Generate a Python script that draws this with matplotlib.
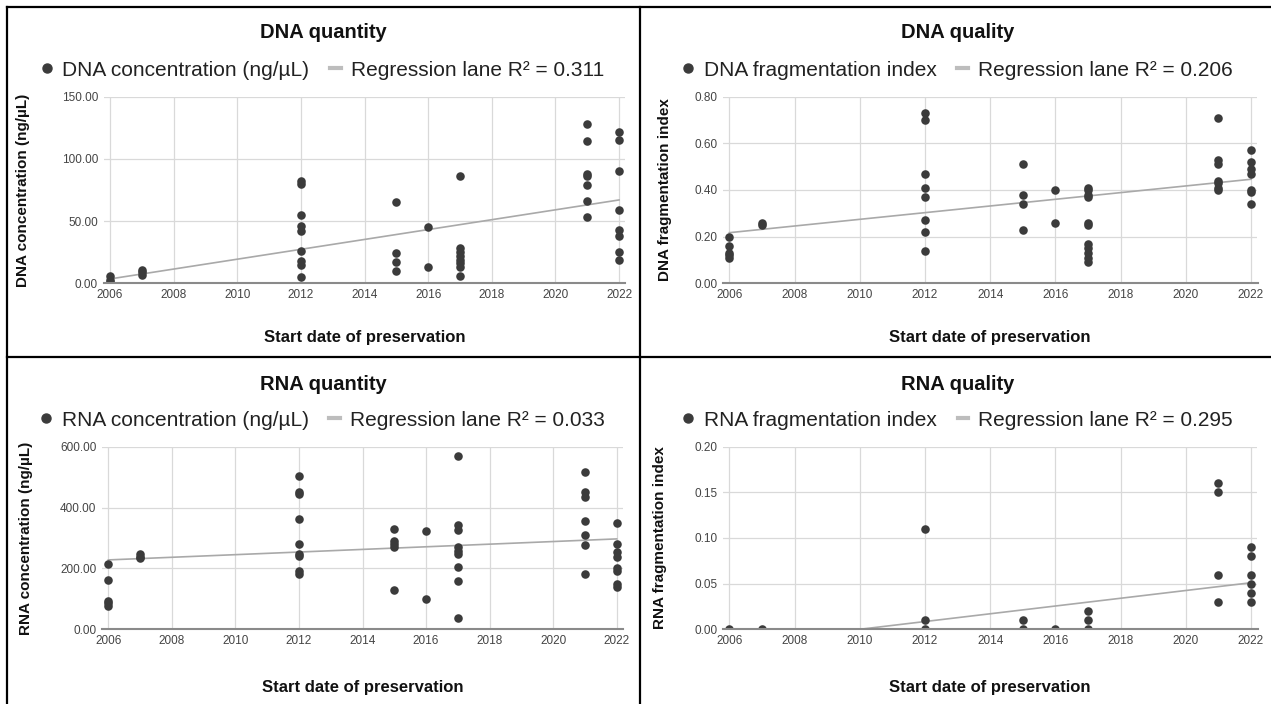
import numpy as np
import matplotlib
matplotlib.use("Agg")
import matplotlib.pyplot as plt
from matplotlib.lines import Line2D

plt.rcParams['font.family'] = ['Liberation Sans', 'DejaVu Sans']

years = [2006, 2007, 2012, 2015, 2016, 2017, 2021, 2022]

dna_conc = [[1, 3, 6], [7, 9, 11], [82, 80, 55, 46, 42, 26, 18, 15, 5],
            [65, 24, 17, 10], [45, 13], [86, 28, 25, 22, 19, 16, 13, 6],
            [128, 114, 88, 86, 79, 66, 53], [122, 115, 90, 59, 43, 38, 25, 19]]
dna_frag = [[0.20, 0.16, 0.13, 0.12, 0.11], [0.26, 0.25],
            [0.73, 0.70, 0.47, 0.41, 0.37, 0.27, 0.22, 0.14],
            [0.51, 0.38, 0.34, 0.23], [0.40, 0.26],
            [0.41, 0.40, 0.38, 0.37, 0.26, 0.25, 0.17, 0.15, 0.13, 0.11, 0.09],
            [0.71, 0.53, 0.51, 0.44, 0.43, 0.41, 0.40],
            [0.57, 0.52, 0.49, 0.47, 0.40, 0.39, 0.34]]
rna_conc = [[216, 162, 94, 86, 78], [246, 239, 233],
            [504, 452, 444, 361, 279, 247, 241, 193, 182],
            [330, 291, 279, 269, 128], [323, 99],
            [569, 344, 326, 272, 258, 247, 206, 160, 38],
            [517, 452, 434, 357, 310, 277, 181],
            [350, 281, 255, 237, 200, 192, 148, 138]]
rna_frag = [[0.0], [0.0], [0.11, 0.01, 0.0], [0.01, 0.0], [0.0],
            [0.02, 0.01, 0.0], [0.16, 0.15, 0.06, 0.03],
            [0.09, 0.08, 0.06, 0.05, 0.04, 0.03]]

# regression lines (value at 2006 and 2022)
trend_x = [2006, 2022]
dna_conc_trend = [3.5, 67]
dna_frag_trend = [0.217, 0.446]
rna_conc_trend = [228, 297]
rna_frag_trend = [-0.017, 0.051]

titles = ["DNA quantity", "DNA quality", "RNA quantity", "RNA quality"]
series_names = ["DNA concentration (ng/\u00b5L)", "DNA fragmentation index",
                "RNA concentration (ng/\u00b5L)", "RNA fragmentation index"]
r2_labels = ["Regression lane R\u00b2 = 0.311", "Regression lane R\u00b2 = 0.206",
             "Regression lane R\u00b2 = 0.033", "Regression lane R\u00b2 = 0.295"]
ylabels = ["DNA concentration (ng/\u00b5L)", "DNA fragmentation index",
           "RNA concentration (ng/\u00b5L)", "RNA fragmentation index"]
y_ticks = [[0, 50, 100, 150], [0, 0.2, 0.4, 0.6, 0.8],
           [0, 200, 400, 600], [0, 0.05, 0.1, 0.15, 0.2]]

data = [dna_conc, dna_frag, rna_conc, rna_frag]
trends = [dna_conc_trend, dna_frag_trend, rna_conc_trend, rna_frag_trend]

W, H = 1271, 704
fig = plt.figure(figsize=(W / 100, H / 100), dpi=100)

# axes boxes in pixels: left, right, top, bottom
boxes = [(103.6, 625.4, 96.7, 283.3), (722.8, 1257.5, 96.7, 283.3),
         (102.0, 623.0, 446.7, 629.3), (722.8, 1257.5, 446.7, 629.3)]
panel_cx = [323, 958, 323, 958]
title_y = [33, 33, 384, 384]
legend_y = [70, 70, 420, 420]
ylabel_x = [30, 672, 33, 667]
xlabel_y = [330, 330, 680, 680]

dot_col = "#3b3b3b"
trend_col = "#a9a9a9"

for i in range(4):
    l, r, t, b = boxes[i]
    ax = fig.add_axes([l / W, 1 - b / H, (r - l) / W, (b - t) / H])
    xs = np.concatenate([[y] * len(v) for y, v in zip(years, data[i])])
    ys = np.concatenate(data[i])
    ax.scatter(xs, ys, s=38, color=dot_col, zorder=3, linewidths=0)
    ax.plot(trend_x, trends[i], color=trend_col, lw=1.2, zorder=2)

    ax.set_xlim(2005.8, 2022.2)
    ax.set_ylim(y_ticks[i][0], y_ticks[i][-1])
    ax.set_xticks(range(2006, 2023, 2))
    ax.set_yticks(y_ticks[i])
    ax.set_yticklabels(["%.2f" % v for v in y_ticks[i]])
    ax.tick_params(length=0, labelsize=8.5, labelcolor="#444444", pad=4)
    ax.grid(True, color="#d9d9d9", lw=0.9)
    ax.set_axisbelow(True)
    for s in ["top", "right", "left"]:
        ax.spines[s].set_visible(False)
    ax.spines["bottom"].set_color("#8a8a8a")
    ax.spines["bottom"].set_linewidth(1.5)
    ax.spines["bottom"].set_zorder(4)

    ax.set_ylabel(ylabels[i], fontsize=11, fontweight="bold", color="#111111")
    ax.yaxis.set_label_coords((ylabel_x[i] - l) / (r - l), 0.5)
    ax.set_xlabel("Start date of preservation", fontsize=12, fontweight="bold", color="#111111")
    ax.xaxis.set_label_coords(0.5, -(xlabel_y[i] - b) / (b - t))

    fig.text(panel_cx[i] / W, 1 - title_y[i] / H, titles[i], ha="center", va="center",
             fontsize=14.5, fontweight="bold", color="#111111")
    handles = [Line2D([], [], marker="o", ls="", color=dot_col, markersize=6.5),
               Line2D([], [], color="#bdbdbd", lw=3)]
    ax.legend(handles, [series_names[i], r2_labels[i]], ncol=2, frameon=False,
              loc="center", bbox_to_anchor=(panel_cx[i] / W, 1 - legend_y[i] / H),
              bbox_transform=fig.transFigure, fontsize=15, handlelength=0.5,
              handletextpad=0.5, columnspacing=1.0, labelcolor="#222222")

# panel borders
border_kw = dict(color="black", lw=1.6, transform=fig.transFigure)
fig.add_artist(Line2D([7 / W, 1], [1 - 7 / H, 1 - 7 / H], **border_kw))
fig.add_artist(Line2D([7 / W, 7 / W], [0, 1 - 7 / H], **border_kw))
fig.add_artist(Line2D([7 / W, 1], [1 - 357 / H, 1 - 357 / H], **border_kw))
fig.add_artist(Line2D([640 / W, 640 / W], [0, 1 - 7 / H], **border_kw))

fig.savefig("out.png", dpi=100)
